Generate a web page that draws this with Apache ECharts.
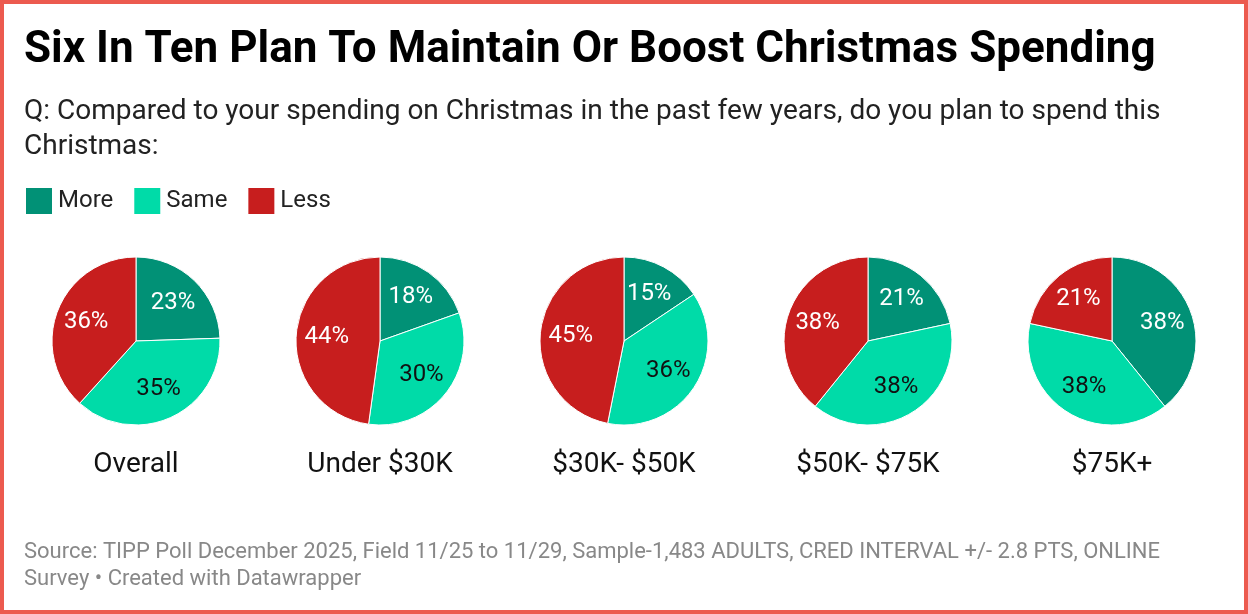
<!DOCTYPE html>
<html>
<head>
<meta charset="utf-8">
<script src="https://cdn.jsdelivr.net/npm/echarts@6/dist/echarts.min.js"></script>
<style>
  html, body { margin: 0; padding: 0; background: #fff; }
  #wrap { position: relative; width: 1248px; height: 614px; }
  #chart { position: absolute; left: 0; top: 0; width: 1248px; height: 614px; }
  #frame { position: absolute; left: 0; top: 0; width: 1248px; height: 614px; box-sizing: border-box; border: 4px solid #ec5a4f; pointer-events: none; }
</style>
</head>
<body>
<div id="wrap"><div id="chart"></div><div id="frame"></div></div>
<script>
const groups = ['Overall', 'Under $30K', '$30K- $50K', '$50K- $75K', '$75K+'];
const answers = ['More', 'Same', 'Less'];
const moreVals = [23, 18, 15, 21, 38];
const sameVals = [35, 30, 36, 38, 38];
const lessVals = [36, 44, 45, 38, 21];

const colors = { More: '#019176', Same: '#00dba8', Less: '#c71e1e' };
const labelColors = { More: '#ffffff', Same: '#111111', Less: '#ffffff' };

const FONT = 'Roboto, "Noto Sans", sans-serif';
const R = 84;
const CY = 341;
const centerX = i => 136 + i * 244;

const series = [];
groups.forEach((g, i) => {
  const vals = [moreVals[i], sameVals[i], lessVals[i]];
  const data = answers.map((a, k) => ({
    name: a, value: vals[k],
    itemStyle: { color: colors[a] }
  }));
  series.push({
    type: 'pie', name: g,
    center: [centerX(i), CY], radius: [0, R],
    startAngle: 90, clockwise: true,
    label: { show: false }, labelLine: { show: false },
    itemStyle: { borderColor: '#ffffff', borderWidth: 1 },
    emphasis: { disabled: true },
    animation: false,
    data: data
  });
});
groups.forEach((g, i) => {
  const vals = [moreVals[i], sameVals[i], lessVals[i]];
  const data = answers.map((a, k) => ({
    name: a, value: vals[k],
    itemStyle: { color: 'rgba(0,0,0,0)' },
    label: { color: labelColors[a] }
  }));
  series.push({
    type: 'pie', name: g + ' labels', silent: true,
    center: [centerX(i), CY], radius: [R * 0.2, R],
    startAngle: 90, clockwise: true,
    label: { show: true, position: 'inside', formatter: p => p.value + '%', fontFamily: FONT, fontSize: 24 },
    labelLine: { show: false },
    emphasis: { disabled: true },
    animation: false,
    data: data
  });
});

const txt = (x, y, text, font, fill, align) => ({
  type: 'text', x: x, y: y,
  style: { text: text, font: font, fill: fill, textAlign: align || 'left', textVerticalAlign: 'middle' }
});

const graphics = [
  txt(24, 51, 'Six In Ten Plan To Maintain Or Boost Christmas Spending', 'bold 44px ' + FONT, '#000'),
  txt(24, 112, 'Q: Compared to your spending on Christmas in the past few years, do you plan to spend this', '28px ' + FONT, '#222'),
  txt(24, 147, 'Christmas:', '28px ' + FONT, '#222'),
  txt(24, 552, 'Source: TIPP Poll December 2025, Field 11/25 to 11/29, Sample-1,483 ADULTS, CRED INTERVAL +/- 2.8 PTS, ONLINE', '22px ' + FONT, '#888'),
  txt(24, 579, 'Survey • Created with Datawrapper', '22px ' + FONT, '#888')
];
groups.forEach((g, i) => {
  graphics.push(txt(centerX(i), 465, g, '28px ' + FONT, '#111', 'center'));
});

const chart = echarts.init(document.getElementById('chart'), null, { renderer: 'canvas' });
chart.setOption({
  backgroundColor: '#ffffff',
  animation: false,
  legend: {
    left: 24, top: 186, padding: 0, itemWidth: 28, itemHeight: 28, itemGap: 19, icon: 'rect',
    selectedMode: false,
    textStyle: { fontFamily: FONT, fontSize: 24, color: '#222' },
    data: answers.map(a => ({ name: a, itemStyle: { color: colors[a] } }))
  },
  series: series,
  graphic: graphics
});
</script>
</body>
</html>
